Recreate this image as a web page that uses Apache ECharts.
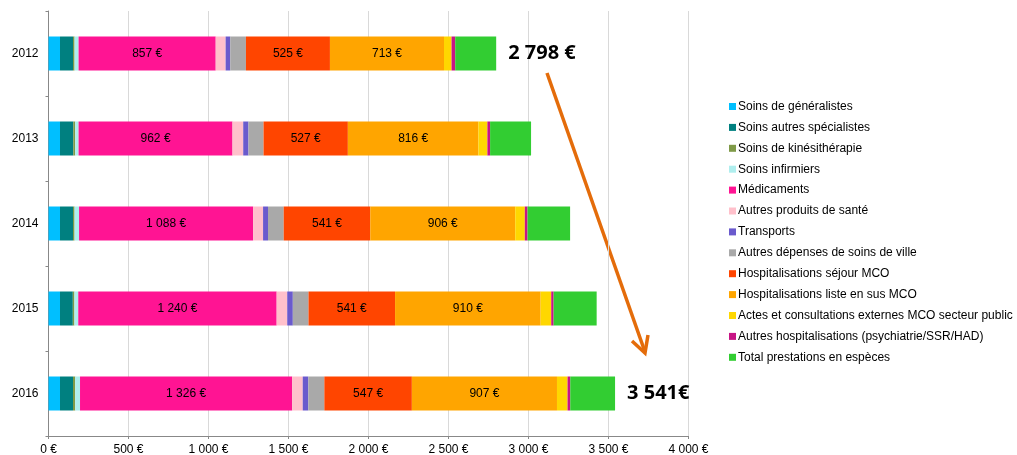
<!DOCTYPE html>
<html>
<head>
<meta charset="utf-8">
<script src="https://cdn.jsdelivr.net/npm/echarts@6/dist/echarts.min.js"></script>
<style>
    html, body { margin: 0; padding: 0; background: #fff; }
    #main { width: 1017px; height: 455px; }
</style>
</head>
<body>
<div id="main"></div>
<script>
    var years = ["2012", "2013", "2014", "2015", "2016"];

    var generalistes = [72, 72, 72, 72, 72];
    var specialistes = [81, 83, 81, 80, 81];
    var kine = [10, 12, 10, 10, 14];
    var infirmiers = [25, 21, 28, 24, 30];
    var medicaments = [857, 962, 1088, 1240, 1326];
    var autresProduits = [62, 67, 62, 66, 66];
    var transports = [29, 33, 31, 35, 35];
    var autresDepenses = [98, 94, 98, 98, 100];
    var hospSejour = [525, 527, 541, 541, 547];
    var hospListe = [713, 816, 906, 910, 907];
    var actesExternes = [47, 56, 60, 66, 66];
    var autresHosp = [23, 17, 17, 15, 17];
    var especes = [256, 256, 266, 269, 280];

    var totalLabels = ["2 798 €", "", "", "", "3 541€"];

    function fmt(v) {
        return String(v).replace(/\B(?=(\d{3})+(?!\d))/g, " ") + " €";
    }

    var seriesDefs = [
        { name: "Soins de généralistes", data: generalistes, color: "#00bfff" },
        { name: "Soins autres spécialistes", data: specialistes, color: "#008080" },
        { name: "Soins de kinésithérapie", data: kine, color: "#7f9a48" },
        { name: "Soins infirmiers", data: infirmiers, color: "#afeeee" },
        { name: "Médicaments", data: medicaments, color: "#ff1493", label: true },
        { name: "Autres produits de santé", data: autresProduits, color: "#ffc0cb" },
        { name: "Transports", data: transports, color: "#6a5acd" },
        { name: "Autres dépenses de soins de ville", data: autresDepenses, color: "#a9a9a9" },
        { name: "Hospitalisations séjour MCO", data: hospSejour, color: "#ff4500", label: true },
        { name: "Hospitalisations liste en sus MCO", data: hospListe, color: "#ffa500", label: true },
        { name: "Actes et consultations externes MCO secteur public", data: actesExternes, color: "#ffd700" },
        { name: "Autres hospitalisations (psychiatrie/SSR/HAD)", data: autresHosp, color: "#c71585" },
        { name: "Total prestations en espèces", data: especes, color: "#32cd32", total: true }
    ];

    var series = seriesDefs.map(function (d) {
        var s = {
            name: d.name,
            type: "bar",
            stack: "total",
            barWidth: "40%",
            data: d.data,
            itemStyle: { color: d.color },
            emphasis: { disabled: true },
            label: { show: false }
        };
        if (d.label) {
            s.label = {
                show: true,
                position: "inside",
                color: "#000",
                fontFamily: "Liberation Sans",
                fontSize: 12,
                formatter: function (p) { return fmt(p.value); }
            };
        }
        if (d.total) {
            s.label = {
                show: true,
                position: "right",
                distance: 12,
                color: "#000",
                fontFamily: "Open Sans",
                fontWeight: "bold",
                fontSize: 20,
                formatter: function (p) { return totalLabels[p.dataIndex]; }
            };
        }
        return s;
    });

    var myChart = echarts.init(document.getElementById("main"));

    myChart.setOption({
        animation: false,
        textStyle: { fontFamily: "Liberation Sans" },
        grid: {
            left: 48.5,
            top: 11,
            width: 640,
            height: 425,
            containLabel: false,
            outerBoundsMode: "none"
        },
        legend: {
            orient: "vertical",
            left: 724,
            top: 95,
            itemWidth: 7,
            itemHeight: 7,
            itemGap: 7.9,
            icon: "rect",
            selectedMode: false,
            textStyle: {
                color: "#000",
                fontSize: 12,
                lineHeight: 13,
                fontFamily: "Liberation Sans",
                padding: [0, 0, 0, -3]
            },
            data: seriesDefs.map(function (d) { return d.name; })
        },
        xAxis: {
            type: "value",
            min: 0,
            max: 4000,
            interval: 500,
            axisLine: { show: true, lineStyle: { color: "#888" } },
            axisTick: { show: true, length: 3, lineStyle: { color: "#888" } },
            splitLine: { show: true, lineStyle: { color: "#d9d9d9" } },
            axisLabel: {
                color: "#000",
                fontSize: 12,
                margin: 8,
                formatter: function (v) { return fmt(v); }
            }
        },
        yAxis: {
            type: "category",
            inverse: true,
            data: years,
            axisLine: { show: true, lineStyle: { color: "#888" } },
            axisTick: { show: true, length: 3, lineStyle: { color: "#888" } },
            axisLabel: { color: "#000", fontSize: 12, margin: 10 }
        },
        graphic: [
            {
                type: "line",
                shape: { x1: 547, y1: 73, x2: 645, y2: 352 },
                style: { stroke: "#e46c0a", lineWidth: 3.5 }
            },
            {
                type: "polyline",
                shape: { points: [[632, 341], [645, 353], [648, 335]] },
                style: { stroke: "#e46c0a", lineWidth: 3.5, fill: null }
            }
        ],
        series: series
    });
</script>
</body>
</html>
